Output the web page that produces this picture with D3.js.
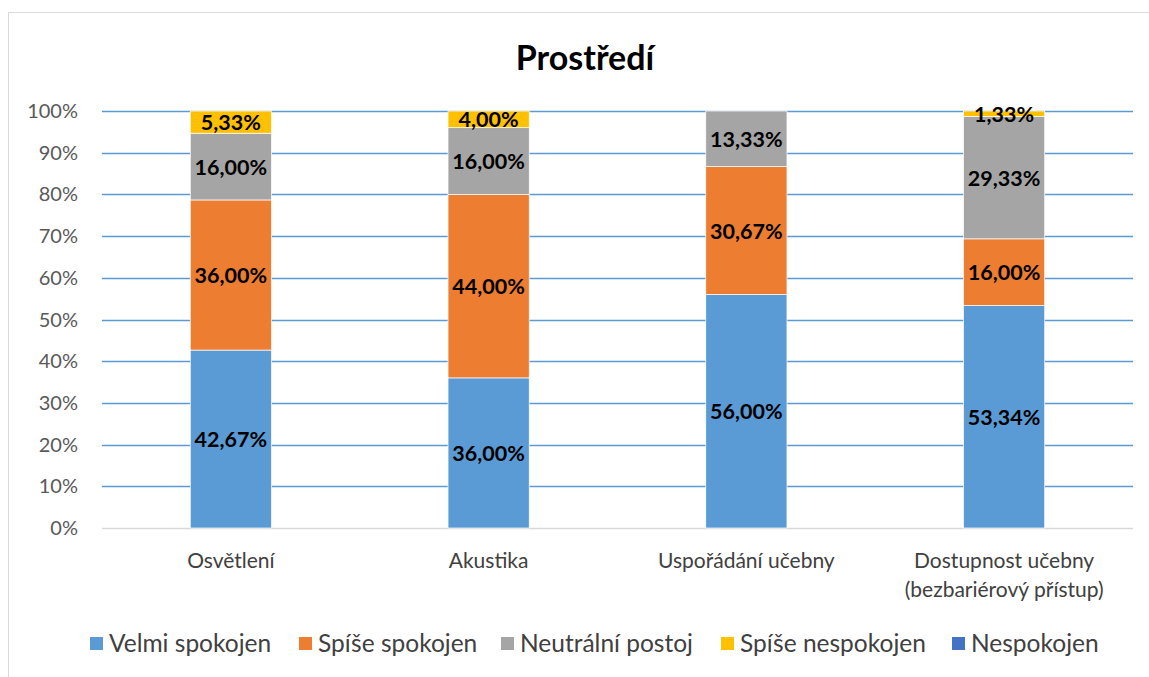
<!DOCTYPE html>
<html>
<head>
<meta charset="utf-8">
<script src="https://cdn.jsdelivr.net/npm/d3@7"></script>
<style>
  body { margin: 0; background: #fff; }
  svg { font-family: Lato, "Noto Sans", sans-serif; }
</style>
</head>
<body>
<div id="chart"></div>
<script>
var width = 1149, height = 677;
var margin = {top: 111, right: 16, bottom: 149, left: 102};

// data
var categories = ["Osvětlení", "Akustika", "Uspořádání učebny", "Dostupnost učebny\n(bezbariérový přístup)"];
var seriesNames = ["Velmi spokojen", "Spíše spokojen", "Neutrální postoj", "Spíše nespokojen", "Nespokojen"];
var seriesColors = ["#5B9BD5", "#ED7D31", "#A5A5A5", "#FFC000", "#4472C4"];
var velmiSpokojen = [42.67, 36.00, 56.00, 53.34];
var spiseSpokojen = [36.00, 44.00, 30.67, 16.00];
var neutralni = [16.00, 16.00, 13.33, 29.33];
var spiseNespokojen = [5.33, 4.00, 0, 1.33];
var nespokojen = [0, 0, 0, 0];
var yTicks = [0, 10, 20, 30, 40, 50, 60, 70, 80, 90, 100];

var seriesValues = [velmiSpokojen, spiseSpokojen, neutralni, spiseNespokojen, nespokojen];
var rows = categories.map(function(c, i) {
  var r = {cat: c};
  seriesNames.forEach(function(s, j) { r[s] = seriesValues[j][i]; });
  return r;
});
var stacked = d3.stack().keys(seriesNames)(rows);

var svg = d3.select("#chart").append("svg")
  .attr("width", width).attr("height", height);

// chart frame
svg.append("rect")
  .attr("x", 8.5).attr("y", 12.5)
  .attr("width", width).attr("height", height)
  .attr("fill", "none").attr("stroke", "#d9d9d9");

var xScale = d3.scaleBand()
  .domain(categories)
  .range([margin.left, width - margin.right]);
var yScale = d3.scaleLinear()
  .domain([0, 100])
  .range([height - margin.bottom, margin.top]);
var barW = xScale.bandwidth() * 0.315;

// title
svg.append("text")
  .attr("x", 585).attr("y", 70)
  .attr("text-anchor", "middle")
  .style("font-size", "34px").style("font-weight", "bold").style("fill", "#000")
  .text("Prostředí");

// gridlines + y labels
svg.selectAll(".grid").data(yTicks).enter().append("line")
  .attr("x1", margin.left).attr("x2", width - margin.right)
  .attr("y1", function(d) { return Math.round(yScale(d)) + 0.5; })
  .attr("y2", function(d) { return Math.round(yScale(d)) + 0.5; })
  .attr("stroke", function(d) { return d === 0 ? "#d9d9d9" : "#5B9BD5"; })
  .attr("stroke-width", 1.5);

svg.selectAll(".ylab").data(yTicks).enter().append("text")
  .attr("x", 78).attr("y", function(d) { return yScale(d) + 7; })
  .attr("text-anchor", "end")
  .style("font-size", "20px").style("fill", "#595959")
  .text(function(d) { return d + "%"; });

// bars
var groups = svg.selectAll(".series").data(stacked).enter().append("g")
  .attr("fill", function(d, i) { return seriesColors[i]; });

groups.selectAll("rect").data(function(d) { return d; }).enter().append("rect")
  .attr("x", function(d) { return xScale(d.data.cat) + xScale.bandwidth() / 2 - barW / 2; })
  .attr("width", barW)
  .attr("y", function(d) { return yScale(d[1]); })
  .attr("height", function(d) { return yScale(d[0]) - yScale(d[1]); })
  .attr("stroke", "#fff").attr("stroke-width", 0.7);

// data labels
stacked.forEach(function(s) {
  svg.selectAll(null).data(s.filter(function(d) { return d[1] - d[0] > 0; })).enter().append("text")
    .attr("x", function(d) { return xScale(d.data.cat) + xScale.bandwidth() / 2; })
    .attr("y", function(d) { return (yScale(d[0]) + yScale(d[1])) / 2 + 8; })
    .attr("text-anchor", "middle")
    .style("font-size", "21.5px").style("font-weight", "bold").style("fill", "#000")
    .text(function(d) { return (d[1] - d[0]).toFixed(2).replace(".", ",") + "%"; });
});

// category labels
categories.forEach(function(c) {
  var lines = c.split("\n");
  var t = svg.append("text")
    .attr("x", xScale(c) + xScale.bandwidth() / 2)
    .attr("y", 568)
    .attr("text-anchor", "middle")
    .style("font-size", "21px").style("fill", "#404040");
  lines.forEach(function(l, i) {
    t.append("tspan").attr("x", xScale(c) + xScale.bandwidth() / 2)
      .attr("dy", i === 0 ? 0 : 29).text(l);
  });
});

// legend
var legX = [90, 299, 501, 721, 952];
var leg = svg.selectAll(".leg").data(seriesNames).enter().append("g")
  .attr("transform", function(d, i) { return "translate(" + legX[i] + ",637)"; });
leg.append("rect").attr("width", 13).attr("height", 13)
  .attr("fill", function(d, i) { return seriesColors[i]; });
leg.append("text").attr("x", 19).attr("y", 15)
  .style("font-size", "24.5px").style("fill", "#404040")
  .text(function(d) { return d; });
</script>
</body>
</html>
